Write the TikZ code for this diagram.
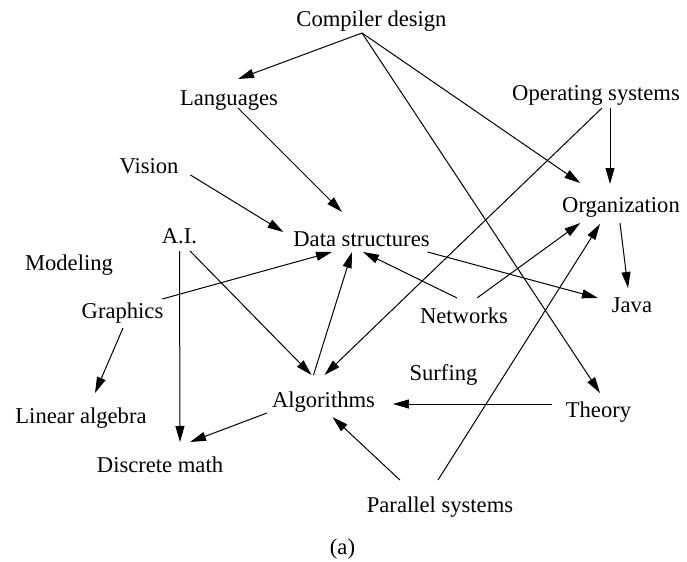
\documentclass[tikz,border=0pt]{standalone}
\usepackage{fontspec}
\setmainfont{Liberation Serif}
\usepackage{tikz}
\usetikzlibrary{arrows.meta}

\tikzset{
	topic/.style={inner sep=0pt, outer sep=0pt, text height=7.5pt, text depth=2.5pt,
		font=\fontsize{11.3}{13}\selectfont},
	dep/.style={line width=0.5pt, -{Triangle[length=8pt, width=4.5pt]}}
}

\begin{document}
\begin{tikzpicture}[x=0.5pt, y=-0.5pt]
		\useasboundingbox (0,0) rectangle (687,562);
		% subjects (pixel positions, y downwards)
		\node[topic] (compiler) at (371.5,21) {Compiler design};
		\node[topic] (languages) at (229,100) {Languages};
		\node[topic] (opsys) at (596,95) {Operating systems};
		\node[topic] (vision) at (149,168) {Vision};
		\node[topic] (organization) at (621,208) {Organization};
		\node[topic] (ai) at (179.5,238) {A.I.};
		\node[topic] (datastruct) at (361.5,241) {Data structures};
		\node[topic] (modeling) at (69,265) {Modeling};
		\node[topic] (graphics) at (122.5,313) {Graphics};
		\node[topic] (networks) at (464,318) {Networks};
		\node[topic] (java) at (632,307) {Java};
		\node[topic] (surfing) at (443.5,375) {Surfing};
		\node[topic] (algorithms) at (323.5,402) {Algorithms};
		\node[topic] (theory) at (598.5,412) {Theory};
		\node[topic] (linalg) at (81,418) {Linear algebra};
		\node[topic] (discrete) at (160,467) {Discrete math};
		\node[topic] (parallel) at (440,507) {Parallel systems};
		\node[topic] (caption) at (342.5,549) {(a)};

		% prerequisites
		\draw[dep] ([shift={(-9.5,2)}]compiler.south) -- ([shift={(9,-11)}]languages.north);
		\draw[dep] ([shift={(-9.5,2)}]compiler.south) -- ([shift={(18,-15)}]organization.north west);
		\draw[dep] ([shift={(-9.5,2)}]compiler.south) -- ([shift={(1.5,-9)}]theory.north);
		\draw[dep] ([shift={(9,-2)}]languages.south) -- ([shift={(-19.5,-19)}]datastruct.north);
		\draw[dep] ([shift={(12,7)}]vision.east) -- ([shift={(-10,1)}]datastruct.north west);
		\draw[dep] ([shift={(0,3)}]ai.south) -- ([shift={(20,-15)}]discrete.north);
		\draw[dep] ([shift={(-7,3)}]ai.south east) -- ([shift={(-12,-17)}]algorithms.north);
		\draw[dep] ([shift={(-1,-4)}]graphics.north east) -- ([shift={(-29.5,1)}]datastruct.south);
		\draw[dep] ([shift={(0.5,5)}]graphics.south) -- ([shift={(14,-15)}]linalg.north);
		\draw[dep] ([shift={(-10,-17)}]algorithms.north) -- ([shift={(-9.5,1)}]datastruct.south);
		\draw[dep] ([shift={(6,3)}]opsys.south) -- ([shift={(1,-17)}]algorithms.north);
		\draw[dep] ([shift={(14,3)}]opsys.south) -- ([shift={(-11,-14)}]organization.north);
		\draw[dep] ([shift={(-7,-10)}]networks.north) -- ([shift={(1.5,1)}]datastruct.south);
		\draw[dep] ([shift={(13,-10)}]networks.north) -- ([shift={(18,5)}]organization.south west);
		\draw[dep] ([shift={(-2,1)}]datastruct.south east) -- ([shift={(-14,-9)}]java.west);
		\draw[dep] ([shift={(-1,5)}]organization.south) -- ([shift={(-4,-9)}]java.north);
		\draw[dep] ([shift={(-14,-8)}]theory.west) -- ([shift={(18,2)}]algorithms.east);
		\draw[dep] ([shift={(33,-17)}]parallel.north west) -- ([shift={(9,5)}]algorithms.south);
		\draw[dep] ([shift={(-2,-17)}]parallel.north) -- ([shift={(-21,6)}]organization.south);
		\draw[dep] ([shift={(-5,1)}]algorithms.south west) -- ([shift={(-33,-15)}]discrete.north east);
	\end{tikzpicture}
\end{document}
